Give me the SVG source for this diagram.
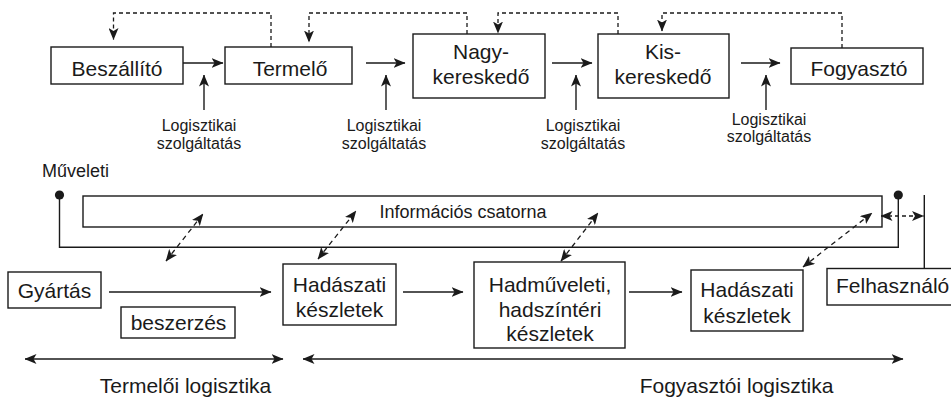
<svg xmlns="http://www.w3.org/2000/svg" width="951" height="397" viewBox="0 0 951 397">
<style>
.box{fill:#fff;stroke:#1a1a1a;stroke-width:1.4}
.ln{fill:none;stroke:#1a1a1a;stroke-width:1.4}
.dash{fill:none;stroke:#1a1a1a;stroke-width:1.3;stroke-dasharray:4 3}
.ddash{fill:none;stroke:#1a1a1a;stroke-width:1.3;stroke-dasharray:5 4}
text{font-family:"Liberation Sans",Arial,sans-serif;fill:#1a1a1a}
.t21{font-size:21px;text-anchor:middle}
.t21s{font-size:21px;text-anchor:start}
.t16{font-size:16px;text-anchor:middle}
.t18{font-size:18px;text-anchor:start}
.t18m{font-size:18px;text-anchor:middle}
</style>
<defs>
<marker id="ah" markerUnits="userSpaceOnUse" markerWidth="12" markerHeight="10" viewBox="0 0 12 10" refX="11.5" refY="5" orient="auto-start-reverse">
<path d="M0,0 L12,5 L0,10 L3,5 z" fill="#1a1a1a" stroke="none"/>
</marker>
</defs>

<g id="n-beszallito"><rect class="box" x="51" y="47" width="132" height="37"/><text class="t21" x="117" y="75.5">Beszállító</text></g>
<g id="n-termelo"><rect class="box" x="225" y="47" width="127" height="37"/><text class="t21" x="290" y="75.5">Termelő</text></g>
<g id="n-nagyker"><rect class="box" x="413" y="34" width="132" height="64"/><text class="t21" x="481" y="59">Nagy-</text><text class="t21" x="481" y="84">kereskedő</text></g>
<g id="n-kisker"><rect class="box" x="598" y="34" width="131" height="64"/><text class="t21" x="663" y="59">Kis-</text><text class="t21" x="663" y="84">kereskedő</text></g>
<g id="n-fogyaszto"><rect class="box" x="791" y="48" width="132" height="36"/><text class="t21" x="859" y="75.5">Fogyasztó</text></g>

<g id="n-log1"><text class="t16" x="199" y="131">Logisztikai</text><text class="t16" x="199" y="148.5">szolgáltatás</text></g>
<g id="n-log2"><text class="t16" x="384" y="131">Logisztikai</text><text class="t16" x="384" y="148.5">szolgáltatás</text></g>
<g id="n-log3"><text class="t16" x="583" y="131">Logisztikai</text><text class="t16" x="583" y="148.5">szolgáltatás</text></g>
<g id="n-log4"><text class="t16" x="769" y="124.5">Logisztikai</text><text class="t16" x="769" y="142">szolgáltatás</text></g>

<g id="n-muveleti"><text class="t18" x="42" y="177">Műveleti</text></g>
<g id="n-info"><rect class="box" x="83" y="196" width="799" height="31"/><text class="t18m" x="463" y="218">Információs csatorna</text></g>

<g id="n-gyartas"><rect class="box" x="8" y="272" width="93" height="36"/><text class="t21" x="54.5" y="298">Gyártás</text></g>
<g id="n-beszerzes"><rect class="box" x="121" y="307" width="114" height="31"/><text class="t21" x="178.5" y="330">beszerzés</text></g>
<g id="n-hadaszati1"><rect class="box" x="283" y="264" width="113" height="61"/><text class="t21" x="339.5" y="292">Hadászati</text><text class="t21" x="339.5" y="317">készletek</text></g>
<g id="n-hadmuveleti"><rect class="box" x="474" y="262" width="151" height="86"/><text class="t21" x="550" y="292">Hadműveleti,</text><text class="t21" x="550" y="317">hadszíntéri</text><text class="t21" x="550" y="341">készletek</text></g>
<g id="n-hadaszati2"><rect class="box" x="691" y="270" width="112" height="61"/><text class="t21" x="747" y="297">Hadászati</text><text class="t21" x="747" y="323">készletek</text></g>
<g id="n-felhasznalo"><rect class="box" x="827" y="268.5" width="140" height="36.5"/><text class="t21s" x="836" y="293">Felhasználó</text></g>

<g id="n-termeloi"><text class="t21" x="185.5" y="393">Termelői logisztika</text></g>
<g id="n-fogyasztoi"><text class="t21" x="736.5" y="393">Fogyasztói logisztika</text></g>

<g id="connectors">
<line class="ln" x1="183" y1="63" x2="223" y2="63" marker-end="url(#ah)"/>
<line class="ln" x1="366" y1="63" x2="405" y2="63" marker-end="url(#ah)"/>
<line class="ln" x1="552" y1="63" x2="592" y2="63" marker-end="url(#ah)"/>
<line class="ln" x1="741" y1="63" x2="780" y2="63" marker-end="url(#ah)"/>

<line class="ln" x1="204" y1="110" x2="204" y2="75" marker-end="url(#ah)"/>
<line class="ln" x1="386" y1="110" x2="386" y2="75" marker-end="url(#ah)"/>
<line class="ln" x1="576" y1="110" x2="576" y2="75" marker-end="url(#ah)"/>
<line class="ln" x1="766" y1="110" x2="766" y2="75" marker-end="url(#ah)"/>

<path class="dash" d="M271,47 V13 H113.5 V39.5" marker-end="url(#ah)"/>
<path class="dash" d="M467,34 V13 H309 V42" marker-end="url(#ah)"/>
<path class="dash" d="M618,34 V13 H498 V33" marker-end="url(#ah)"/>
<path class="dash" d="M842,48 V13 H662 V31" marker-end="url(#ah)"/>

<path class="ln" d="M59.5,195 V247.3 H898.3 V195"/>
<circle cx="59.5" cy="195" r="4.6" fill="#1a1a1a"/>
<circle cx="898.3" cy="195" r="4.6" fill="#1a1a1a"/>
<line class="ln" x1="924.3" y1="195" x2="924.3" y2="268.5"/>

<line class="ddash" x1="166" y1="261" x2="203" y2="214" marker-start="url(#ah)" marker-end="url(#ah)"/>
<line class="ddash" x1="318" y1="259" x2="356" y2="211" marker-start="url(#ah)" marker-end="url(#ah)"/>
<line class="ddash" x1="561" y1="261" x2="598" y2="213" marker-start="url(#ah)" marker-end="url(#ah)"/>
<line class="ddash" x1="803" y1="267" x2="872" y2="213" marker-start="url(#ah)" marker-end="url(#ah)"/>
<line class="dash" x1="881" y1="216" x2="923.5" y2="216" marker-start="url(#ah)" marker-end="url(#ah)"/>

<line class="ln" x1="109" y1="292" x2="271" y2="292" marker-end="url(#ah)"/>
<line class="ln" x1="403" y1="292" x2="463" y2="292" marker-end="url(#ah)"/>
<line class="ln" x1="629" y1="292" x2="682" y2="292" marker-end="url(#ah)"/>

<line class="ln" x1="25" y1="359" x2="283" y2="359" marker-start="url(#ah)" marker-end="url(#ah)"/>
<line class="ln" x1="303" y1="359" x2="903" y2="359" marker-start="url(#ah)" marker-end="url(#ah)"/>
</g>
</svg>
